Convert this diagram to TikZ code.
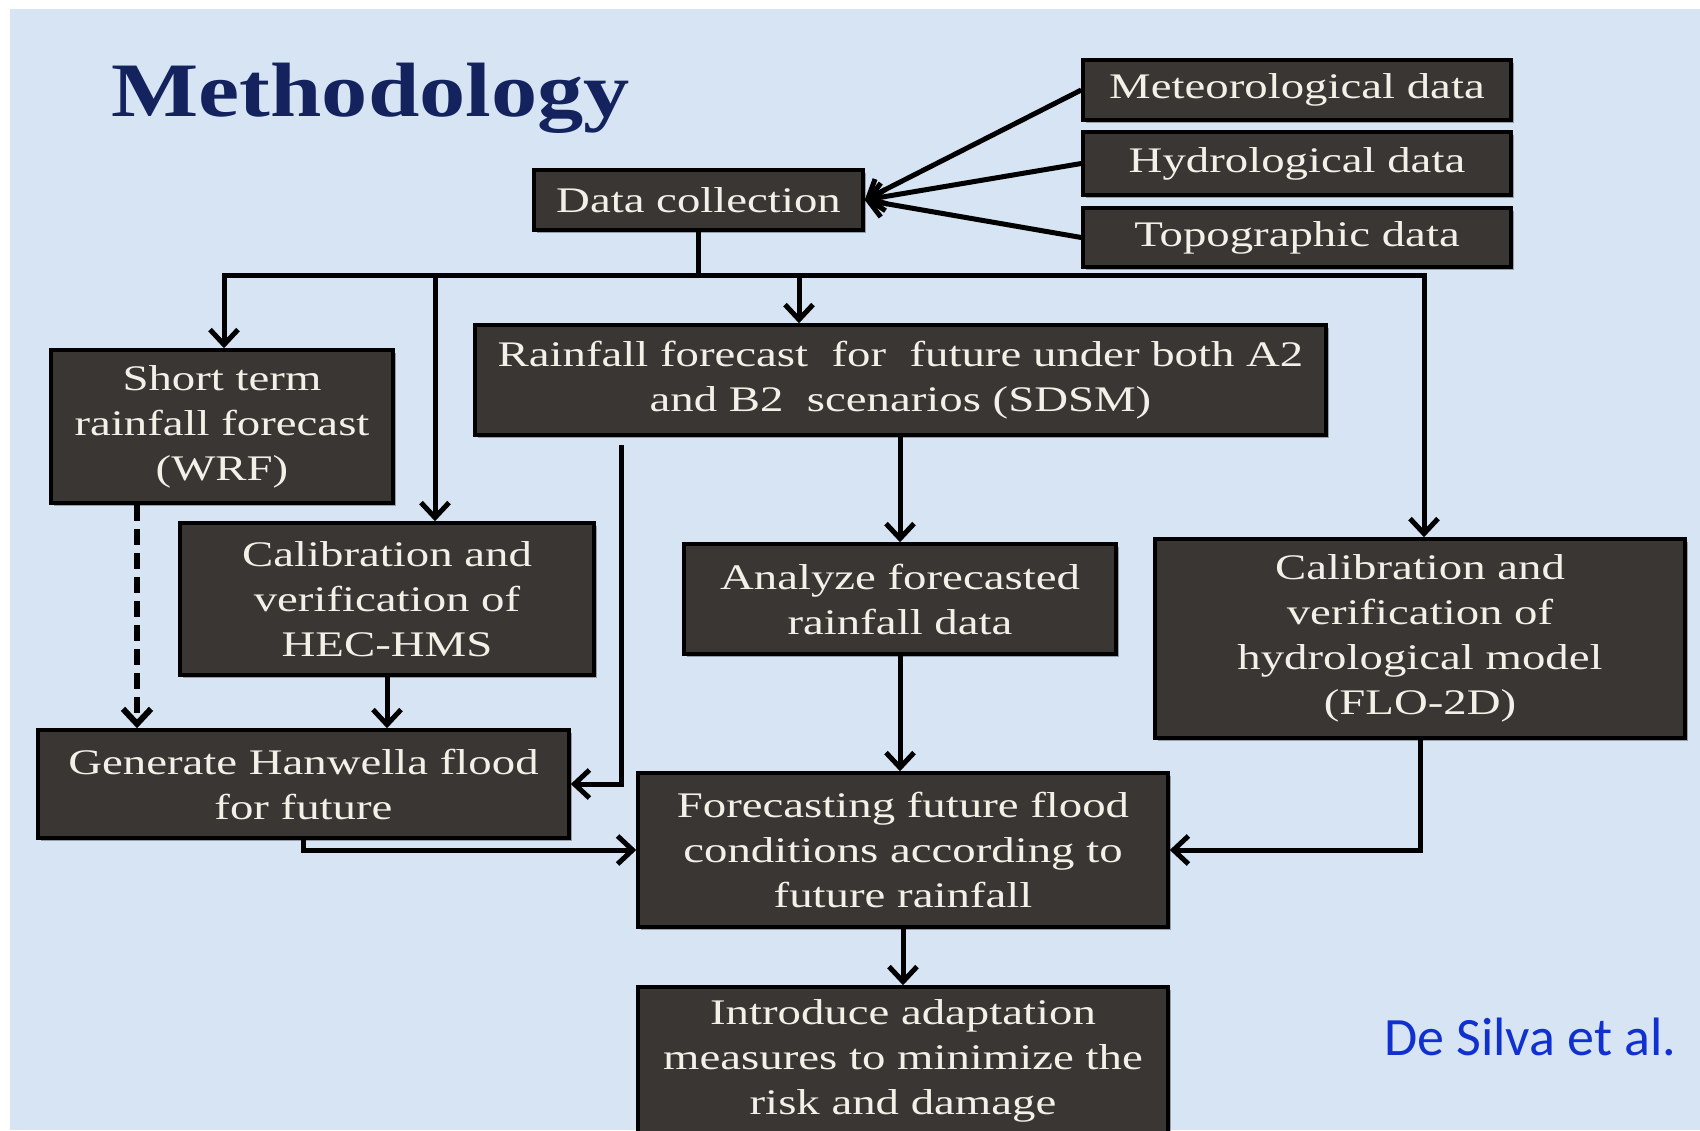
\documentclass[tikz,border=0pt]{standalone}
\usepackage{fontspec}
\setmainfont{Liberation Serif}
\newfontfamily\boxfont{Liberation Serif}[FakeStretch=1.3]
\newfontfamily\ttlfont{Liberation Serif}[FakeStretch=1.2]
\newfontfamily\credfont{Carlito}
\usetikzlibrary{arrows.meta,shadows}
\definecolor{bgblue}{RGB}{214,228,243}
\definecolor{boxfill}{RGB}{58,54,51}
\definecolor{boxtext}{RGB}{243,240,232}
\definecolor{navy}{RGB}{20,35,94}
\definecolor{credblue}{RGB}{16,48,208}
\begin{document}
\begin{tikzpicture}[x=1pt,y=-1pt,
  box/.style={draw=black, line width=3.5pt, fill=boxfill, text=boxtext, align=center,
    inner sep=0pt, font=\boxfont\fontsize{36}{45}\selectfont,
    drop shadow={shadow xshift=3pt,shadow yshift=-3pt,opacity=0.3,fill=black}},
  conn/.style={line width=5pt, draw=black, line join=miter},
  arr/.style={conn, -{Straight Barb[length=15pt,width=28pt]}},
]
\fill[white] (0,0) rectangle (1700,1130);
\fill[bgblue] (10,9) rectangle (1700,1130);
\useasboundingbox (0,0) rectangle (1700,1130);

\node[anchor=base west, text=navy, font=\ttlfont\bfseries\fontsize{77}{80}\selectfont] (title) at (108,116) {Methodology};

\node[box, minimum width=329pt, minimum height=60pt] (dc) at (698.5,200) {Data collection};
\node[box, minimum width=428pt, minimum height=60pt] (met) at (1297,90) {Meteorological data};
\node[box, minimum width=428pt, minimum height=63pt] (hyd) at (1297,163.5) {Hydrological data};
\node[box, minimum width=428pt, minimum height=59pt] (topo) at (1297,237.5) {Topographic data};

\node[box, minimum width=342pt, minimum height=153pt] (wrf) at (222,426.5) {Short term\\rainfall forecast\\(WRF)};
\node[box, minimum width=414pt, minimum height=152pt] (hec) at (387,599) {Calibration and\\verification of\\HEC-HMS};
\node[box, minimum width=531pt, minimum height=108pt] (gen) at (303.5,784) {Generate Hanwella flood\\for future};
\node[box, minimum width=851pt, minimum height=110pt] (sdsm) at (900.5,380) {Rainfall forecast~ for~ future under both A2\\and B2~ scenarios (SDSM)};
\node[box, minimum width=432pt, minimum height=110pt] (ana) at (900,599) {Analyze forecasted\\rainfall data};
\node[box, minimum width=530pt, minimum height=199pt] (flo) at (1420,638.5) {Calibration and\\verification of\\hydrological model\\(FLO-2D)};
\node[box, minimum width=530pt, minimum height=154pt] (fut) at (903,850) {Forecasting future flood\\conditions according to\\future rainfall};
\node[box, minimum width=530pt, minimum height=148pt] (intro) at (903,1061) {Introduce adaptation\\measures to minimize the\\risk and damage};

\node[anchor=base east, text=credblue, font=\credfont\fontsize{54}{60}\selectfont] (cred) at (1680,1055) {De Silva et al.};

% data sources
\draw[arr] (met.west) -- (dc.east);
\draw[arr] (hyd.west) -- (dc.east);
\draw[arr] (topo.west) -- (dc.east);

% bus
\coordinate (b1) at (224,275);
\coordinate (b2) at (435,275);
\coordinate (b3) at (799,275);
\coordinate (b4) at (1424,275);
\draw[conn] (dc.south) -- (dc.south |- b1);
\draw[arr] (b3) -- (b1) -- (b1 |- wrf.north);
\draw[arr] (b3) -- (b4) -- (b4 |- flo.north);
\draw[arr] (b2) -- (b2 |- hec.north);
\draw[arr] (b3) -- (b3 |- sdsm.north);

% left column
\coordinate (w1) at (137,0);
\draw[arr, line width=6pt, dash pattern=on 16pt off 8pt] (w1 |- wrf.south) -- (w1 |- gen.north);
\draw[arr] (hec.south) -- (hec.south |- gen.north);
\coordinate (s1) at (621,445);
\draw[arr] (s1) |- (gen.east);

% middle
\draw[arr] (ana.north |- sdsm.south) -- (ana.north);
\draw[arr] (ana.south) -- (ana.south |- fut.north);
\draw[arr] (gen.south) |- (fut.west);
\draw[arr] (flo.south) |- (fut.east);
\draw[arr] (fut.south) -- (intro.north);
\end{tikzpicture}
\end{document}
